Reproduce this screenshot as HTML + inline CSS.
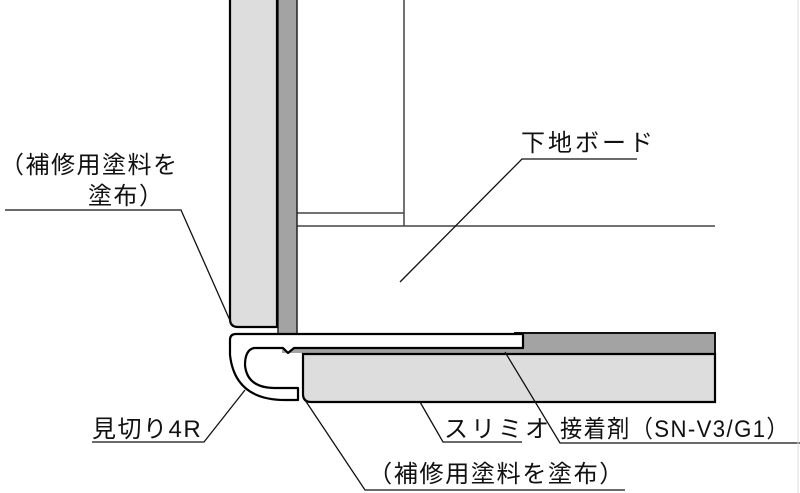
<!DOCTYPE html>
<html><head><meta charset="utf-8"><style>
html,body{margin:0;padding:0;background:#fff;width:800px;height:493px;overflow:hidden}
svg{display:block}
text{font-family:"Liberation Sans","Noto Sans CJK JP",sans-serif;font-size:24px;fill:#111;letter-spacing:1.5px}
</style></head><body>
<svg width="800" height="493" viewBox="0 0 800 493">
<line x1="404" y1="0" x2="404" y2="226" stroke="#444" stroke-width="1.5"/>
<line x1="297" y1="213" x2="404" y2="213" stroke="#444" stroke-width="1.5"/>
<line x1="297" y1="226" x2="715" y2="226" stroke="#444" stroke-width="1.5"/>
<rect x="278" y="-2" width="19" height="336" fill="#a2a3a2" stroke="#222" stroke-width="1.5"/>
<path d="M230,-2 L277,-2 L277,327 L238,327 Q230,327 230,319 Z" fill="#dcdddc" stroke="#000" stroke-width="2.2"/>
<rect x="515" y="333" width="200" height="21" fill="#a2a3a2" stroke="#111" stroke-width="2"/>
<rect x="282" y="347" width="240" height="6" fill="#a2a3a2"/>
<path d="M303,354 L715,354 L715,402 L311,402 Q303,402 303,394 Z" fill="#dcdddc" stroke="#000" stroke-width="2.2"/>
<path d="M236,334 L523,334 L523,348 L294,348 L288,353 L283,348 L254,348 Q245,350 245,365 Q247,388 275,388 L298,388 L298,400 L285,400 Q235,400 230,355 L230,340 Q230,334 236,334 Z" fill="#fff" stroke="#000" stroke-width="2.2" stroke-linejoin="round"/>
<g stroke="#111" stroke-width="1.3" fill="none">
<polyline points="5,210 181,210 232,325"/>
<polyline points="637,159 522,159 400,282"/>
<polyline points="92,442 204,442 245,390"/>
<polyline points="305,400 365,490 625,490"/>
<polyline points="420,402 443,442 522,442"/>
<polyline points="505,352 560,443 800,443"/>
</g>
<line x1="798" y1="0" x2="798" y2="493" stroke="#ddd" stroke-width="1"/>
<text x="0" y="173">（補修用塗料を</text>
<text x="88" y="204">塗布）</text>
<text x="521" y="151" style="letter-spacing:3px">下地ボード</text>
<text x="92" y="437">見切り4R</text>
<text x="444" y="437" style="letter-spacing:3px">スリミオ</text>
<text x="560" y="437" textLength="230" lengthAdjust="spacingAndGlyphs">接着剤（SN-V3/G1）</text>
<text x="368" y="482" textLength="257" lengthAdjust="spacingAndGlyphs">（補修用塗料を塗布）</text>
</svg>
</body></html>
